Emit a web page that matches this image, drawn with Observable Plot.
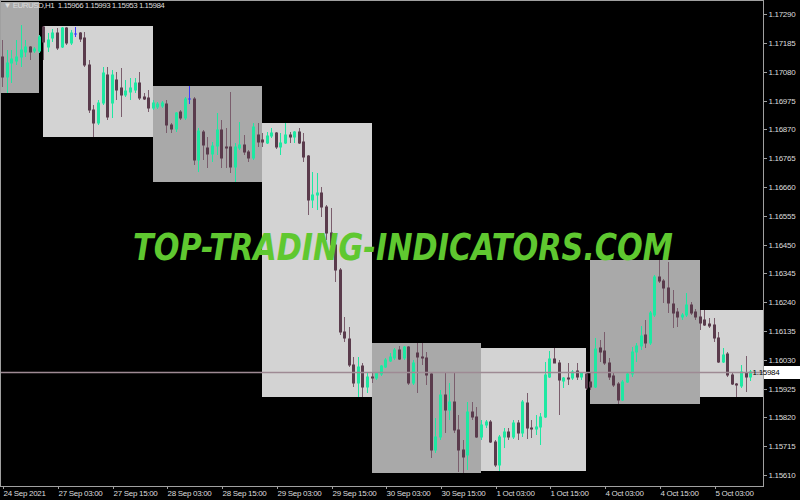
<!DOCTYPE html>
<html><head><meta charset="utf-8">
<script src="https://cdn.jsdelivr.net/npm/d3@7"></script>
<script src="https://cdn.jsdelivr.net/npm/@observablehq/plot@0.6"></script>
<style>
html,body{margin:0;padding:0;background:#000;}
#chart{width:800px;height:500px;overflow:hidden;}
svg text{letter-spacing:-0.3px;}
</style></head><body><div id="chart"></div>
<script>
// EURUSD H1 candles, bar index 0 = 27 Sep 2021 00:00
const firstBar = -9;
const open = [1.17134,1.17061,1.17112,1.17120,1.17134,1.17152,1.17171,1.17156,1.17156,
1.17245,1.17171,1.17203,1.17222,1.17171,1.17240,1.17185,1.17218,1.17222,1.17203,1.17105,1.16941,1.16893,1.16966,1.17068,1.16966,1.17050,1.17021,1.16996,1.17006,1.17014,1.17039,1.16988,1.16985,
1.16948,1.16952,1.16955,1.16963,1.16886,1.16872,1.16934,1.16912,1.16981,1.16981,1.16758,1.16861,1.16802,1.16780,1.16810,1.16868,1.16806,1.16806,1.16733,1.16802,1.16813,1.16788,1.16766,1.16850,
1.16831,1.16820,1.16846,1.16857,1.16806,1.16820,1.16850,1.16842,1.16861,1.16824,1.16773,1.16613,1.16631,1.16638,1.16587,1.16492,1.16448,1.16357,1.16131,1.16106,1.16011,1.15945,1.16007,1.15931,
1.15967,1.15963,1.15978,1.16004,1.16025,1.16036,1.16066,1.16036,1.16076,1.15945,1.16055,1.16040,1.16036,1.15978,1.15701,1.15748,1.15901,1.15847,1.15876,1.15774,1.15701,1.15683,1.15839,1.15821,
1.15748,1.15792,1.15803,1.15730,1.15646,1.15748,1.15766,1.15748,1.15799,1.15763,1.15872,1.15781,1.15777,1.15785,1.15821,1.15967,1.16033,1.16018,1.15952,1.15963,1.15963,1.15989,1.15967,1.15978,
1.15949,1.15931,1.16073,1.16062,1.16018,1.15971,1.15942,1.15883,1.15949,1.15978,1.16058,1.16080,1.16120,1.16091,1.16193,1.16332,1.16317,1.16292,1.16233,1.16204,1.16186,1.16193,1.16230,1.16204,
1.16186,1.16175,1.16160,1.16157,1.16109,1.16022,1.16051,1.15974,1.15942,1.15934,1.15982,1.15966];
const high = [1.17196,1.17160,1.17160,1.17196,1.17251,1.17196,1.17174,1.17171,1.17214,
1.17247,1.17222,1.17236,1.17240,1.17244,1.17244,1.17233,1.17244,1.17225,1.17225,1.17123,1.16959,1.16977,1.17098,1.17098,1.17087,1.17079,1.17094,1.17050,1.17058,1.17058,1.17079,1.17003,1.17014,
1.16977,1.16970,1.16974,1.16977,1.16893,1.16934,1.16941,1.16988,1.17028,1.16988,1.16875,1.16868,1.16842,1.16824,1.16930,1.16904,1.16875,1.17006,1.16820,1.16897,1.16850,1.16795,1.16893,1.16893,
1.16857,1.16861,1.16875,1.16861,1.16857,1.16893,1.16861,1.16864,1.16875,1.16857,1.16777,1.16715,1.16711,1.16660,1.16594,1.16583,1.16456,1.16365,1.16186,1.16149,1.16040,1.16040,1.16018,1.15982,
1.15985,1.15985,1.16011,1.16036,1.16055,1.16073,1.16080,1.16080,1.16080,1.16029,1.16091,1.16091,1.16058,1.15985,1.15818,1.15920,1.15982,1.15945,1.15982,1.15828,1.15737,1.15876,1.15876,1.15858,
1.15810,1.15810,1.15810,1.15737,1.15756,1.15781,1.15781,1.15810,1.15810,1.15883,1.15909,1.15810,1.15828,1.15836,1.16022,1.16062,1.16073,1.16029,1.15967,1.16018,1.15993,1.16018,1.15985,1.15985,
1.15982,1.16109,1.16102,1.16131,1.16036,1.15985,1.15949,1.15956,1.15985,1.16076,1.16091,1.16153,1.16175,1.16208,1.16339,1.16394,1.16324,1.16386,1.16284,1.16219,1.16200,1.16273,1.16241,1.16215,
1.16211,1.16211,1.16182,1.16182,1.16131,1.16073,1.16058,1.15985,1.15945,1.16011,1.16044,1.15993];
const low = [1.17025,1.17003,1.17039,1.17105,1.17098,1.17134,1.17123,1.17149,1.17149,
1.17123,1.17152,1.17189,1.17160,1.17167,1.17178,1.17178,1.17207,1.17189,1.17098,1.16930,1.16842,1.16886,1.16959,1.16904,1.16912,1.16977,1.16915,1.16988,1.16977,1.17003,1.16977,1.16977,1.16934,
1.16941,1.16944,1.16948,1.16857,1.16857,1.16861,1.16904,1.16904,1.16963,1.16740,1.16715,1.16758,1.16729,1.16751,1.16777,1.16729,1.16729,1.16711,1.16678,1.16795,1.16777,1.16751,1.16758,1.16806,
1.16806,1.16817,1.16839,1.16799,1.16777,1.16817,1.16820,1.16820,1.16817,1.16751,1.16558,1.16583,1.16576,1.16551,1.16467,1.16419,1.16314,1.16120,1.16095,1.16004,1.15931,1.15894,1.15894,1.15909,
1.15945,1.15956,1.15971,1.16000,1.16022,1.16029,1.16029,1.16029,1.15938,1.15938,1.15909,1.16011,1.15938,1.15672,1.15690,1.15737,1.15763,1.15810,1.15763,1.15621,1.15617,1.15628,1.15810,1.15745,
1.15737,1.15781,1.15726,1.15639,1.15624,1.15708,1.15737,1.15741,1.15737,1.15748,1.15741,1.15745,1.15756,1.15719,1.15818,1.15963,1.16018,1.15828,1.15927,1.15938,1.15956,1.15956,1.15956,1.15920,
1.15920,1.15927,1.16022,1.16011,1.15956,1.15931,1.15869,1.15880,1.15945,1.15967,1.16022,1.16066,1.16073,1.16084,1.16186,1.16310,1.16237,1.16200,1.16146,1.16149,1.16175,1.16186,1.16193,1.16175,
1.16138,1.16153,1.16146,1.16095,1.16018,1.16018,1.15967,1.15938,1.15894,1.15927,1.15912,1.15953];
const close = [1.17061,1.17112,1.17127,1.17134,1.17160,1.17171,1.17152,1.17163,1.17207,
1.17189,1.17196,1.17222,1.17167,1.17240,1.17185,1.17222,1.17218,1.17200,1.17105,1.16941,1.16893,1.16966,1.17076,1.16915,1.17068,1.17014,1.16996,1.17010,1.17021,1.17039,1.16985,1.16981,1.16948,
1.16966,1.16963,1.16966,1.16886,1.16872,1.16930,1.16912,1.16981,1.16981,1.16758,1.16864,1.16813,1.16780,1.16810,1.16868,1.16766,1.16802,1.16733,1.16806,1.16813,1.16788,1.16766,1.16879,1.16824,
1.16824,1.16846,1.16857,1.16806,1.16820,1.16850,1.16842,1.16861,1.16820,1.16769,1.16613,1.16631,1.16638,1.16587,1.16492,1.16448,1.16357,1.16131,1.16109,1.16011,1.15945,1.16004,1.15931,1.15967,
1.15963,1.15982,1.16007,1.16029,1.16040,1.16066,1.16033,1.16076,1.15945,1.16018,1.16040,1.16036,1.15974,1.15701,1.15748,1.15901,1.15847,1.15876,1.15774,1.15701,1.15675,1.15839,1.15821,1.15748,
1.15792,1.15803,1.15730,1.15646,1.15748,1.15766,1.15748,1.15799,1.15763,1.15876,1.15781,1.15777,1.15785,1.15821,1.15974,1.16033,1.16018,1.15956,1.15963,1.15960,1.15985,1.15967,1.15982,1.15927,
1.15931,1.16069,1.16058,1.16018,1.15967,1.15938,1.15883,1.15949,1.15978,1.16058,1.16080,1.16117,1.16091,1.16200,1.16332,1.16317,1.16292,1.16237,1.16200,1.16186,1.16193,1.16230,1.16200,1.16186,
1.16164,1.16157,1.16153,1.16109,1.16022,1.16047,1.15974,1.15942,1.15938,1.15985,1.15967,1.15984];

// Daily range boxes
const dayStart = [-24, 0, 24, 48, 72, 96, 120, 144];
const dayEnd   = [-1, 24, 48, 72, 96, 119, 144, 168];
const dayHigh  = [1.17335, 1.17247, 1.17028, 1.16893, 1.16091, 1.16073, 1.16394, 1.16211];
const dayLow   = [1.17003, 1.16842, 1.16678, 1.15894, 1.15617, 1.15624, 1.15869, 1.15894];

// Axis ticks
const yTicks = [1.17290,1.17185,1.17080,1.16975,1.16870,1.16765,1.16660,1.16555,1.16450,1.16345,1.16240,1.16135,1.16030,1.15925,1.15820,1.15715,1.15610];
const xTickBars = [-9, 3, 15, 27, 39, 51, 63, 75, 87, 99, 111, 123, 135, 147];
const xTickLabels = ["24 Sep 2021","27 Sep 03:00","27 Sep 15:00","28 Sep 03:00","28 Sep 15:00","29 Sep 03:00","29 Sep 15:00","30 Sep 03:00","30 Sep 15:00","1 Oct 03:00","1 Oct 15:00","4 Oct 03:00","4 Oct 15:00","5 Oct 03:00"];

const lastPrice = 1.15984;
const headerText = "\u25BC EURUSD,H1  1.15966 1.15993 1.15953 1.15984";
const watermark = "TOP-TRADING-INDICATORS.COM";

const bars = open.map((o, k) => ({i: firstBar + k, o, h: high[k], l: low[k], c: close[k]}));
const days = dayStart.map((s, k) => ({s, e: dayEnd[k], hi: dayHigh[k], lo: dayLow[k], k}));
const dir = d => d.c > d.o ? "up" : d.c < d.o ? "down" : "doji";
const wickColor = {up: "#1ee8a2", down: "#7a5d6c", doji: "#3a3aff"};
const bodyColor = {up: "#1ee8a2", down: "#5a3b4c", doji: "#3a3aff"};
const font = "'Liberation Sans', Arial, sans-serif";

const plot = Plot.plot({
  width: 800, height: 500,
  marginLeft: 0, marginRight: 37, marginTop: 0, marginBottom: 14,
  style: {background: "#000", color: "#dcdcdc", fontFamily: font, fontSize: "8px"},
  x: {domain: [-9.496, 157.83], round: true},
  y: {domain: [1.15570, 1.17342], round: true},
  marks: [
    Plot.rect(days, {x1: "s", x2: "e", y1: "lo", y2: "hi", fill: d => d.k % 2 === 0 ? "#a9a9a9" : "#d3d3d3", clip: true}),
    Plot.ruleX(bars, {x: "i", y1: "h", y2: "l", stroke: d => wickColor[dir(d)], strokeWidth: 1}),
    Plot.ruleX(bars, {x: "i", y1: d => Math.max(d.o, d.c), y2: d => Math.min(d.o, d.c), stroke: d => bodyColor[dir(d)], strokeWidth: 3, insetTop: -0.5, insetBottom: -0.5}),
    Plot.ruleY([lastPrice], {stroke: "#9e8a94", strokeWidth: 1.5}),
    Plot.text([watermark], {frameAnchor: "middle", dx: 21, dy: 5, fill: "#5fc830", fontSize: 30, fontWeight: "bold", fontStyle: "italic", fontFamily: "'DejaVu Sans', sans-serif"}),
    Plot.axisY(yTicks, {anchor: "right", tickSize: 3, tickPadding: 2, tickFormat: d => d.toFixed(5), fill: "#dcdcdc", stroke: "#a0a0a0", fontSize: 8, label: null}),
    Plot.axisX(xTickBars, {anchor: "bottom", tickSize: 3, tickPadding: 1, tickFormat: d => xTickLabels[xTickBars.indexOf(d)], textAnchor: "start", dx: 1, fill: "#dcdcdc", stroke: "#a0a0a0", fontSize: 8, label: null}),
    Plot.frame({stroke: "#a0a0a0"}),
    Plot.text([headerText], {frameAnchor: "top-left", dx: 3, dy: 2, lineAnchor: "top", textAnchor: "start", fill: "#dcdcdc", fontSize: 8})
  ]
});
document.getElementById("chart").appendChild(plot);

const svg = d3.select(plot.tagName === "svg" ? plot : plot.querySelector("svg"));
// watermark: fit its width and stretch it vertically
svg.selectAll("text").filter(function(){ return this.textContent === watermark; })
  .attr("textLength", 540).attr("lengthAdjust", "spacingAndGlyphs").style("letter-spacing", "0px")
  .attr("transform", function(){ return (this.getAttribute("transform") || "") + " scale(1,1.22)"; });
// header: keep double space and fit to its width
svg.selectAll("text").filter(function(){ return this.textContent === headerText; })
  .style("white-space", "pre").attr("textLength", 161).attr("lengthAdjust", "spacing");

// current price label on the price scale
const yPix = plot.scale("y").apply(lastPrice);
const g = svg.append("g");
g.append("rect").attr("x", 764).attr("y", yPix - 6).attr("width", 36).attr("height", 13).attr("fill", "#fff");
g.append("text").attr("x", 766).attr("y", yPix + 0.5).attr("dominant-baseline", "middle")
  .attr("font-size", 8).attr("font-family", font).attr("fill", "#000").text(lastPrice.toFixed(5));
</script></body></html>
